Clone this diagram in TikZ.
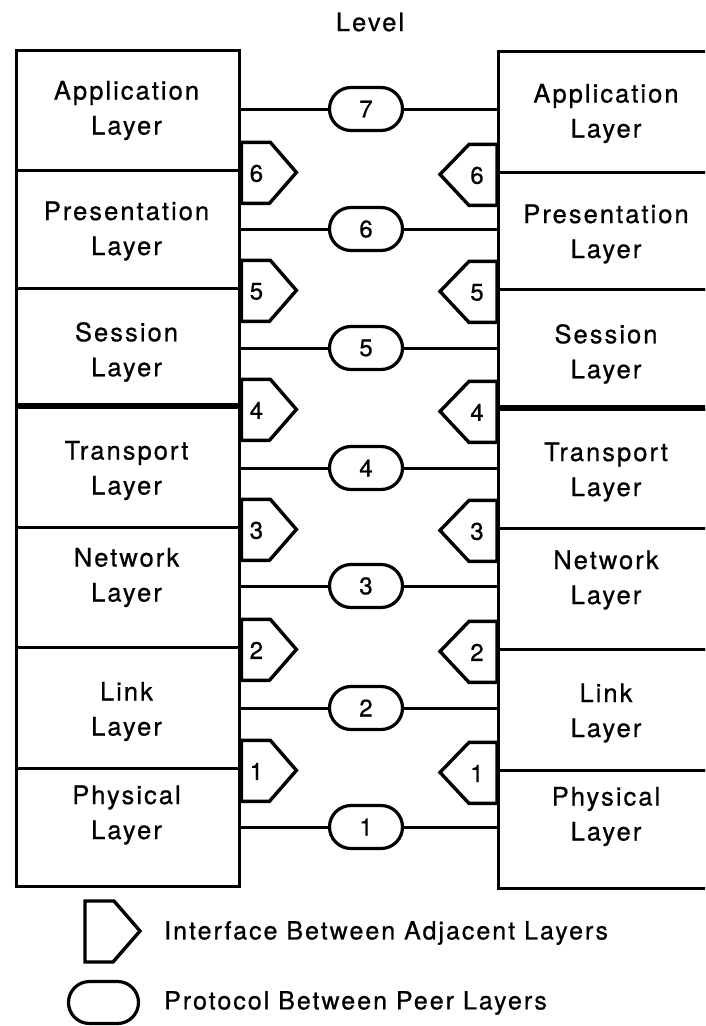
\documentclass[tikz,border=0pt]{standalone}
\usepackage{fontspec}
\setmainfont{TeX Gyre Heros}[LetterSpace=8,FakeBold=0.7]
\newfontfamily\digitfont{TeX Gyre Heros}[FakeBold=0.7]
\usetikzlibrary{shapes.misc}
\begin{document}
\begin{tikzpicture}[x=1pt,y=-1pt,
  layer/.style={draw, line width=3.4pt, anchor=north west, inner sep=0pt, minimum width=223pt},
  rlayer/.style={layer, minimum width=219pt},
  laytext/.style={align=center, inner sep=0pt, font=\fontsize{25.5}{35}\selectfont},
  num/.style={inner sep=0pt, font=\digitfont\fontsize{24}{24}\selectfont},
  proto/.style={rounded rectangle, draw, line width=3.2pt, minimum width=73pt, minimum height=43pt, inner sep=0pt, num},
  link/.style={line width=3pt},
  iface/.style={draw, fill=white, line width=3.4pt},
  legendtext/.style={anchor=west, inner sep=0pt, font=\fontsize{25}{30}\selectfont},
  ifR/.pic={\path[iface] (0,-30) -- (29,-30) -- (55,0) -- (28,31) -- (0,31) -- cycle;
            \node[num] (-n) at (15,1) {#1};},
  ifL/.pic={\path[iface] (0,-30) -- (-28,-30) -- (-57,0) -- (-28,31) -- (0,31) -- cycle;
            \node[num] (-n) at (-20,1) {#1};}
]
\useasboundingbox (0,0) rectangle (705,1026);
\clip (0,0) rectangle (705,1026);

% heading
\node[laytext] (lvl) at (370,22) {Level};

% left stack
\foreach \n/\ya/\yb/\yc/\txt in {7/49/169/110.5/Application, 6/169/287/231/Presentation,
    5/287/406/352/Session, 4/406/526/470.5/Transport, 3/526/646/577.5/Network,
    2/646/767/711.5/Link, 1/767/885/815/Physical}{
  \node[layer, minimum height={\yb-\ya}] (L\n) at (15,\ya) {};
  \node[laytext] (LT\n) at (126.5,\yc) {\txt\\Layer};
}
% right stack
\foreach \n/\ya/\yb/\yc/\txt in {7/50/171/113.5/Application, 6/171/288/234/Presentation,
    5/288/408/354/Session, 4/408/527/472/Transport, 3/527/648/580/Network,
    2/648/769/713/Link, 1/769/887/816.5/Physical}{
  \node[rlayer, minimum height={\yb-\ya}] (R\n) at (497,\ya) {};
  \node[laytext] (RT\n) at (606,\yc) {\txt\\Layer};
}
% heavy boundary between session and transport
\draw[line width=6pt] (L4.north west) -- (L4.north east);
\draw[line width=6pt] (R4.north west) -- (R4.north east);

% interfaces between adjacent layers
\foreach \n/\d in {7/6,6/5,5/4,4/3,3/2,2/1}{
  \pic (IL\d) at (L\n.south east) {ifR=\d};
  \pic (IR\d) at (R\n.south west) {ifL=\d};
}

% peer protocols
\foreach \n/\y in {7/109,6/229,5/348,4/468,3/586,2/708,1/827}{
  \node[proto] (P\n) at (366,\y) {\n};
  \draw[link] (P\n.west) -- (P\n.west -| L\n.east);
  \draw[link] (P\n.east) -- (P\n.east -| R\n.west);
}

% legend
\pic (lgI) at (85,931) {ifR=};
\node[legendtext] (lgIt) at (164,933) {Interface Between Adjacent Layers};
\node[proto, minimum width=70pt, minimum height=42pt] (lgP) at (103.5,1002.5) {};
\node[legendtext] (lgPt) at (164,1003) {Protocol Between Peer Layers};
\end{tikzpicture}
\end{document}
